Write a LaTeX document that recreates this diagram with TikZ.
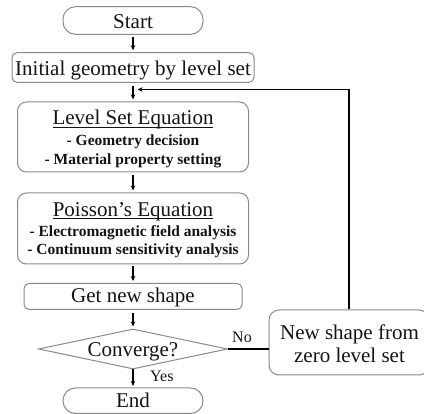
\documentclass[tikz,border=0pt]{standalone}
\usepackage{fontspec}
\setmainfont{Liberation Serif}
\usetikzlibrary{shapes.geometric,arrows.meta}
\newcommand\myul[1]{\setbox0\hbox{#1}\rlap{\rule[-2.6pt]{\wd0}{1pt}}\box0}
\definecolor{bordergray}{HTML}{8A8A8A}
\definecolor{textgray}{HTML}{141414}
\begin{document}
\begin{tikzpicture}[x=1pt,y=-1pt,
  box/.style={draw=bordergray, line width=1pt, rounded corners=9pt, inner sep=0pt},
  term/.style={box, rounded corners=12.5pt, minimum width=140pt},
  txt/.style={inner sep=0pt, anchor=base, text=textgray, font=\fontsize{21}{21}\selectfont},
  subtxt/.style={txt, font=\bfseries\fontsize{15.5}{15.5}\selectfont},
  lbl/.style={txt, font=\fontsize{16}{16}\selectfont},
  arr/.style={-{Stealth[length=5pt,width=4.5pt]}, line width=1.1pt, black},
  plain/.style={line width=1.5pt, black}
]
\useasboundingbox (0,0) rectangle (424,414);

% boxes
\node[term, minimum height=27.6pt] (start) at (133,20.5) {};
\node[box, rounded corners=5pt, minimum width=242pt, minimum height=29.6pt] (init) at (133,67.5) {};
\node[box, minimum width=231pt, minimum height=70pt] (ls) at (133,137) {};
\node[box, minimum width=231pt, minimum height=71pt] (po) at (133,228.5) {};
\node[box, rounded corners=5pt, minimum width=218pt, minimum height=26pt] (get) at (133,296.5) {};
\node[draw=bordergray, line width=1pt, shape=diamond, aspect=4.7, inner sep=0pt,
  minimum width=189pt, minimum height=40pt] (conv) at (133,349) {};
\node[term, minimum height=25.5pt] (end) at (133,400.75) {};
\node[box, rounded corners=10pt, minimum width=160pt, minimum height=65pt] (ns) at (349,342.5) {};

% texts
\node[txt] (tstart) at (133,29) {Start};
\node[txt] (tinit) at (133,76) {Initial geometry by level set};
\node[txt] (tls) at (133,125) {\myul{Level Set Equation}};
\node[subtxt] (tls1) at (133,146) {- Geometry decision};
\node[subtxt] (tls2) at (133,164.5) {- Material property setting};
\node[txt] (tpo) at (133,216.5) {\myul{Poisson’s Equation}};
\node[subtxt] (tpo1) at (133,236.5) {- Electromagnetic field analysis};
\node[subtxt] (tpo2) at (133,255) {- Continuum sensitivity analysis};
\node[txt] (tget) at (133,303) {Get new shape};
\node[txt] (tconv) at (133,357) {Converge?};
\node[txt] (tend) at (133,408) {End};
\node[txt] (tns1) at (349.5,339.5) {New shape from};
\node[txt] (tns2) at (349.5,362.5) {zero level set};
\node[lbl] (no) at (242,343) {No};
\node[lbl, anchor=base west] (yes) at (150,381.5) {Yes};

\coordinate (join) at (137.5,89.5);

% connectors
\draw[arr, shorten <=2pt, shorten >=2pt] (start) -- (init);
\draw[arr, shorten <=3pt, shorten >=2pt] (init) -- (ls);
\draw[arr, shorten <=3pt, shorten >=2pt] (ls) -- (po);
\draw[arr, shorten <=2pt, shorten >=2pt] (po) -- (get);
\draw[arr, shorten <=3pt, shorten >=2pt] (get) -- (conv);
\draw[arr, shorten >=1.5pt] (conv.south) -- (end);
\draw[plain] (conv.east) -- (conv.east -| ns.west);
\draw[arr, line width=1.5pt] (ns.north) |- (join);
\end{tikzpicture}
\end{document}
